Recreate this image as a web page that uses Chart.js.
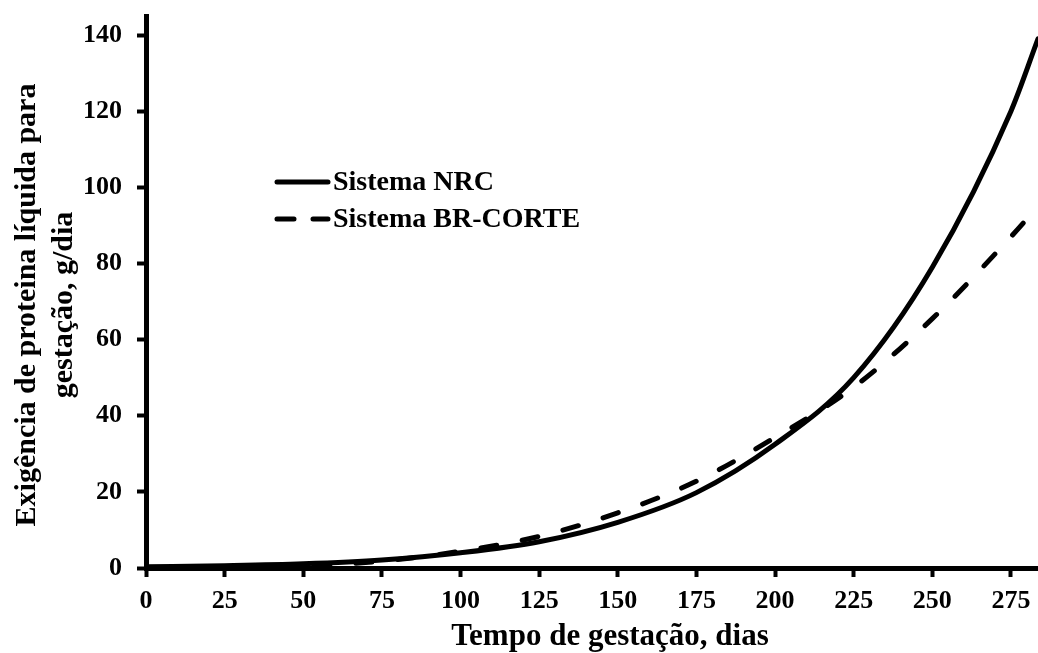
<!DOCTYPE html>
<html><head><meta charset="utf-8">
<script src="https://cdn.jsdelivr.net/npm/chart.js@4.4.1/dist/chart.umd.min.js"></script>
<style>html,body{margin:0;padding:0;background:#fff;overflow:hidden}#wrap{width:1038px;height:653px;position:relative}</style>
</head><body><div id="wrap"><canvas id="c" width="1038" height="653"></canvas></div>
<script>
// ---- data ----
const days    = [0, 25, 50, 75, 100, 125, 150, 175, 200, 225, 250, 275, 283.6];
const nrc     = [0.3, 0.6, 1.1, 2.1, 4.0, 6.9, 12.0, 19.8, 32.5, 50, 79, 120, 139];
const brCorte = [0.0, 0.1, 0.5, 1.8, 4.4, 8.3, 14.5, 22.8, 34.3, 47.5, 65.5, 87, 95];
const xTickValues = [0, 25, 50, 75, 100, 125, 150, 175, 200, 225, 250, 275];
const yTickValues = [0, 20, 40, 60, 80, 100, 120, 140];
const seriesNames = ['Sistema NRC', 'Sistema BR-CORTE'];
const xTitle = 'Tempo de gestação, dias';
const yTitle = ['Exigência de proteina líquida para', 'gestação, g/dia'];

const FONT = '"Liberation Serif", "Times New Roman", serif';
const pts = ys => days.map((d, i) => ({x: d, y: ys[i]}));

const titlesAndLegend = {
  id: 'titlesAndLegend',
  afterDraw(chart) {
    const ctx = chart.ctx;
    ctx.save();
    ctx.fillStyle = '#000';
    // x title
    ctx.font = 'bold 31px ' + FONT;
    ctx.textAlign = 'center';
    ctx.textBaseline = 'alphabetic';
    ctx.fillText(xTitle, 610, 645);
    // y title (two rotated lines)
    ctx.font = 'bold 30px ' + FONT;
    const yPos = [[27, 305], [64, 305]];
    yTitle.forEach((t, i) => {
      ctx.save();
      ctx.translate(yPos[i][0], yPos[i][1]);
      ctx.rotate(-Math.PI / 2);
      ctx.textBaseline = 'middle';
      ctx.fillText(t, 0, 0);
      ctx.restore();
    });
    // legend
    const rows = [182, 219];
    chart.data.datasets.forEach((ds, i) => {
      const y = rows[i];
      ctx.save();
      ctx.strokeStyle = '#000';
      ctx.lineWidth = 5;
      ctx.lineCap = 'round';
      if (ds.borderDash && ds.borderDash.length) ctx.setLineDash([17, 19]);
      ctx.beginPath();
      ctx.moveTo(277, y);
      ctx.lineTo(328, y);
      ctx.stroke();
      ctx.restore();
      ctx.font = 'bold 28px ' + FONT;
      ctx.textAlign = 'left';
      ctx.textBaseline = 'middle';
      ctx.fillText(ds.label, 333, y + 1);
    });
    ctx.restore();
  }
};

const noPad = s => { s.paddingTop = 0; s.paddingBottom = 0; s.paddingLeft = 0; s.paddingRight = 0; };

new Chart(document.getElementById('c'), {
  type: 'line',
  data: {
    datasets: [
      {label: seriesNames[0], data: pts(nrc), borderColor: '#000', borderWidth: 5,
       pointRadius: 0, cubicInterpolationMode: 'monotone', fill: false, borderCapStyle: 'round'},
      {label: seriesNames[1], data: pts(brCorte), borderColor: '#000', borderWidth: 5,
       borderDash: [16, 26], borderCapStyle: 'round',
       pointRadius: 0, cubicInterpolationMode: 'monotone', fill: false}
    ]
  },
  options: {
    responsive: false,
    animation: false,
    devicePixelRatio: 1,
    layout: {padding: {top: 16, right: 0, bottom: 0, left: 0}},
    plugins: {legend: {display: false}, tooltip: {enabled: false}},
    scales: {
      x: {
        type: 'linear', min: 0, max: 283.6,
        afterFit: s => { s.height = 85; noPad(s); },
        afterBuildTicks: s => { s.ticks = xTickValues.map(v => ({value: v})); },
        border: {display: true, color: '#000', width: 5},
        grid: {drawOnChartArea: false, drawTicks: true, tickLength: 9, tickWidth: 4, tickColor: '#000'},
        ticks: {color: '#000', padding: 9, font: {family: FONT, size: 26, weight: 'bold'}, maxRotation: 0, autoSkip: false}
      },
      y: {
        type: 'linear', min: 0, max: 145,
        afterFit: s => { s.width = 146; noPad(s); },
        afterBuildTicks: s => { s.ticks = yTickValues.map(v => ({value: v})); },
        border: {display: true, color: '#000', width: 5},
        grid: {drawOnChartArea: false, drawTicks: true, tickLength: 9, tickWidth: 4, tickColor: '#000'},
        ticks: {color: '#000', padding: 15, font: {family: FONT, size: 26, weight: 'bold'}, autoSkip: false}
      }
    }
  },
  plugins: [titlesAndLegend]
});
</script></body></html>
